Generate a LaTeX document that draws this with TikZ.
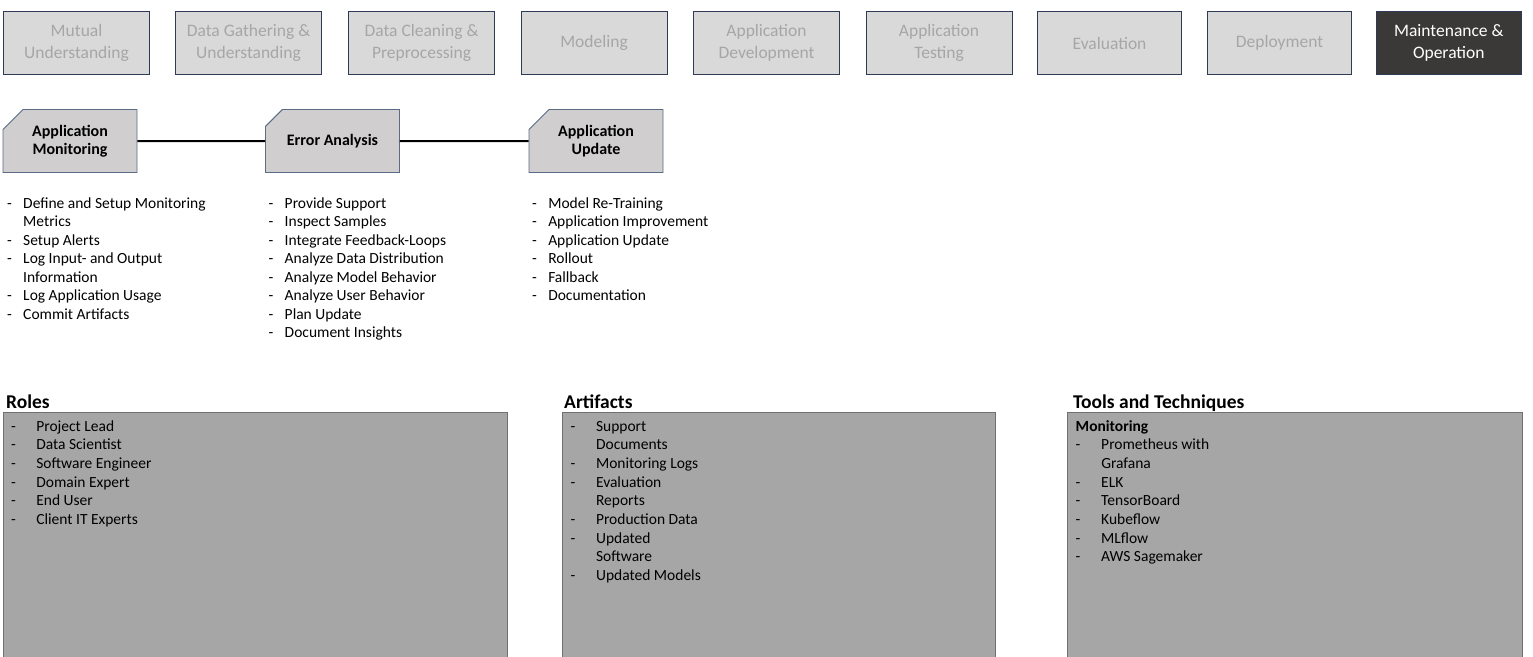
\documentclass[tikz,border=0pt]{standalone}
\usepackage{fontspec}
\setmainfont{Carlito}
\usetikzlibrary{shapes.misc}

\definecolor{phasefill}{HTML}{D9D9D9}
\definecolor{phaseline}{HTML}{2F3A56}
\definecolor{phasetext}{HTML}{A6A6A6}
\definecolor{activefill}{HTML}{3B3838}
\definecolor{stepfill}{HTML}{D0CECE}
\definecolor{stepline}{HTML}{5B6A85}
\definecolor{panelfill}{HTML}{A6A6A6}
\definecolor{panelline}{HTML}{707070}

% item lists: a dash column and a text column
\newenvironment{dashlist}[1]{\begin{tabular}[t]{@{}l@{\hspace{#1}}l@{}}}{\end{tabular}}

\begin{document}
\begin{tikzpicture}[x=1pt,y=-1pt,
  phase/.style={draw=phaseline, line width=1.1pt, fill=phasefill, text=phasetext,
    minimum width=146pt, minimum height=63pt, inner sep=0pt, anchor=north west,
    align=center, font=\fontsize{17.5}{21.5}\selectfont},
  activephase/.style={phase, fill=activefill, text=white},
  stepbox/.style={chamfered rectangle, chamfered rectangle corners=north west,
    chamfered rectangle xsep=10pt, chamfered rectangle ysep=10pt,
    draw=stepline, line width=0.9pt, fill=stepfill,
    minimum width=134pt, minimum height=63pt, inner sep=0pt,
    align=center, font=\bfseries\fontsize{16}{17.5}\selectfont},
  link/.style={line width=2pt, black},
  tasklist/.style={inner sep=0pt, anchor=base west, font=\fontsize{15.5}{18.5}\selectfont},
  panel/.style={draw=panelline, line width=0.9pt, fill=panelfill, inner sep=0pt, anchor=north west},
  panelhead/.style={inner sep=0pt, anchor=base west, font=\bfseries\fontsize{19.5}{22}\selectfont},
  panellist/.style={inner sep=0pt, anchor=base west, font=\fontsize{15.5}{18.7}\selectfont}
]
\useasboundingbox (0,0) rectangle (1533,656);

% process phases
\node[phase] (p1) at (3,11) {Mutual\\Understanding};
\node[phase] (p2) at (175,11) {Data Gathering \&\\Understanding};
\node[phase] (p3) at (348,11) {Data Cleaning \&\\Preprocessing};
\node[phase] (p4) at (520.5,11) {Modeling};
\node[phase] (p5) at (693,11) {Application\\Development};
\node[phase] (p6) at (865.5,11) {Application\\Testing};
\node[phase, minimum width=144pt] (p7) at (1037,11) {Evaluation};
\node[phase, minimum width=144pt] (p8) at (1207,11) {Deployment};
\node[activephase, minimum width=144.5pt] (p9) at (1376,11) {Maintenance \&\\Operation};

% steps of the phase
\node[stepbox] (mon) at (70,141) {Application\\Monitoring};
\node[stepbox] (err) at (332.5,141) {Error Analysis};
\node[stepbox] (upd) at (596,141) {Application\\Update};
\draw[link] (mon) -- (err);
\draw[link] (err) -- (upd);

% tasks of each step
\node[tasklist] (tmon) at (7,208) {\begin{dashlist}{11.3pt}
- & Define and Setup Monitoring\\
  & Metrics\\
- & Setup Alerts\\
- & Log Input- and Output\\
  & Information\\
- & Log Application Usage\\
- & Commit Artifacts
\end{dashlist}};
\node[tasklist] (terr) at (268.5,208) {\begin{dashlist}{11.3pt}
- & Provide Support\\
- & Inspect Samples\\
- & Integrate Feedback-Loops\\
- & Analyze Data Distribution\\
- & Analyze Model Behavior\\
- & Analyze User Behavior\\
- & Plan Update\\
- & Document Insights
\end{dashlist}};
\node[tasklist] (tupd) at (532,208) {\begin{dashlist}{11.3pt}
- & Model Re-Training\\
- & Application Improvement\\
- & Application Update\\
- & Rollout\\
- & Fallback\\
- & Documentation
\end{dashlist}};

% roles, artifacts, tools
\node[panel, minimum width=504pt, minimum height=250pt] (roles) at (3,411.5) {};
\node[panel, minimum width=433pt, minimum height=250pt] (arts) at (562,411.5) {};
\node[panel, minimum width=455pt, minimum height=250pt] (tools) at (1067,411.5) {};

\node[panelhead] (hroles) at (6,408) {Roles};
\node[panelhead] (harts) at (564,408) {Artifacts};
\node[panelhead] (htools) at (1073,408) {Tools and Techniques};

\node[panellist] (lroles) at (11,431) {\begin{dashlist}{20.4pt}
- & Project Lead\\
- & Data Scientist\\
- & Software Engineer\\
- & Domain Expert\\
- & End User\\
- & Client IT Experts
\end{dashlist}};
\node[panellist] (larts) at (570.5,431) {\begin{dashlist}{20.6pt}
- & Support\\
  & Documents\\
- & Monitoring Logs\\
- & Evaluation\\
  & Reports\\
- & Production Data\\
- & Updated\\
  & Software\\
- & Updated Models
\end{dashlist}};
\node[panellist] (ltools) at (1075.5,431) {\begin{dashlist}{20.8pt}
\multicolumn{2}{@{}l@{}}{\bfseries Monitoring}\\
- & Prometheus with\\
  & Grafana\\
- & ELK\\
- & TensorBoard\\
- & Kubeflow\\
- & MLflow\\
- & AWS Sagemaker
\end{dashlist}};
\end{tikzpicture}
\end{document}
